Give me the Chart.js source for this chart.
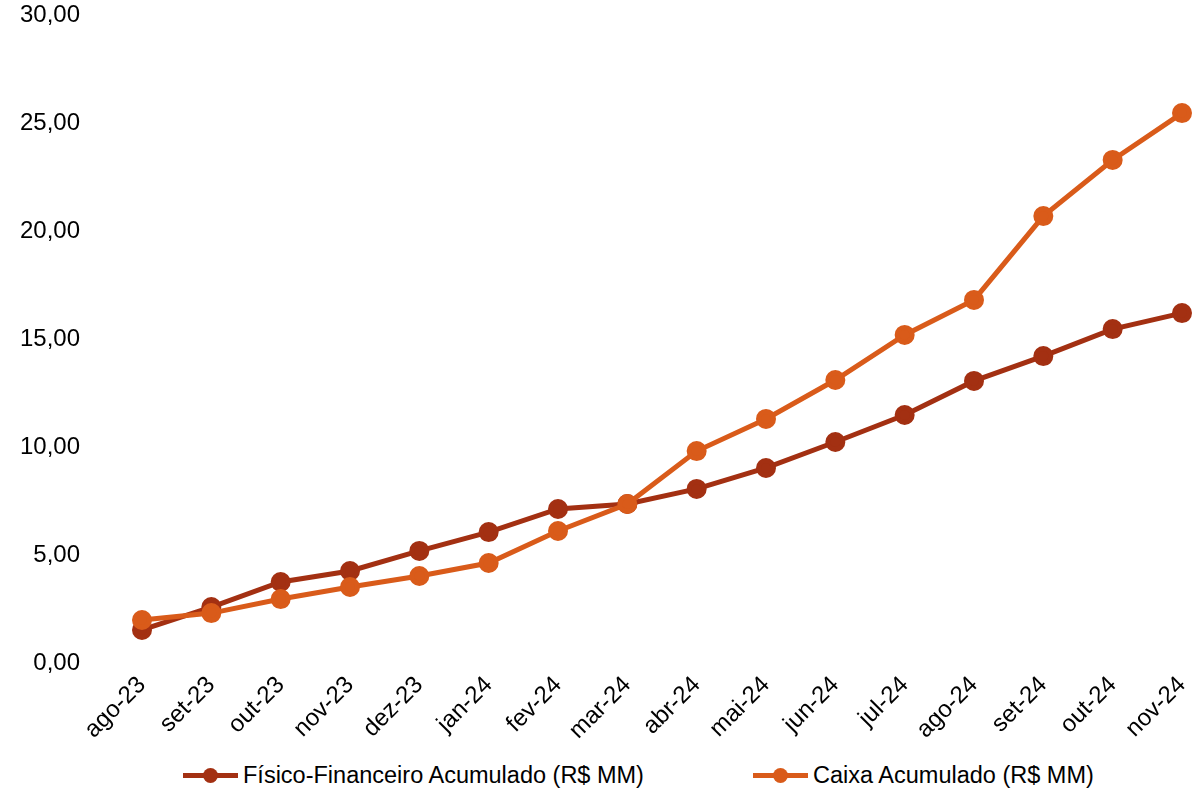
<!DOCTYPE html>
<html>
<head>
<meta charset="utf-8">
<script src="https://cdn.jsdelivr.net/npm/chart.js@4.4.1/dist/chart.umd.min.js"></script>
<style>
  html, body { margin: 0; padding: 0; background: #fff; }
  #wrap { position: relative; width: 1196px; height: 788px; font-family: "Liberation Sans", Arial, sans-serif; }
  #box { position: absolute; left: 0; top: 0; width: 1196px; height: 745px; }
  .leg { position: absolute; top: 761px; height: 28px; display: flex; align-items: center; font-size: 23.5px; color: #000; white-space: nowrap; }
  .mk { position: relative; width: 55px; height: 5px; margin-right: 5px; }
  .mk i { position: absolute; left: 20px; top: -5px; width: 15px; height: 15px; border-radius: 50%; }
</style>
</head>
<body>
<div id="wrap">
  <div id="box"><canvas id="c"></canvas></div>
  <div class="leg" style="left:183px"><div class="mk" id="mk1"><i></i></div><span>Físico-Financeiro Acumulado (R$ MM)</span></div>
  <div class="leg" style="left:753px"><div class="mk" id="mk2"><i></i></div><span>Caixa Acumulado (R$ MM)</span></div>
</div>
<script>
// months on the x axis
const months = ['ago-23', 'set-23', 'out-23', 'nov-23', 'dez-23', 'jan-24', 'fev-24', 'mar-24',
                'abr-24', 'mai-24', 'jun-24', 'jul-24', 'ago-24', 'set-24', 'out-24', 'nov-24'];

// R$ MM
const fisicoFinanceiro = [1.53, 2.59, 3.75, 4.26, 5.19, 6.06, 7.13, 7.36, 8.06, 9.03, 10.23, 11.48, 13.06, 14.21, 15.46, 16.20];
const caixa            = [1.99, 2.31, 2.96, 3.52, 4.03, 4.63, 6.11, 7.36, 9.81, 11.30, 13.10, 15.19, 16.81, 20.69, 23.29, 25.46];

const seriesNames = ['Físico-Financeiro Acumulado (R$ MM)', 'Caixa Acumulado (R$ MM)'];

const RED = '#a33012';
const ORANGE = '#d95b1a';

// legend markers
for (const [id, col] of [['mk1', RED], ['mk2', ORANGE]]) {
  const el = document.getElementById(id);
  el.style.background = col;
  el.querySelector('i').style.background = col;
}

const font = { family: '"Liberation Sans", Arial, sans-serif', size: 24 };

function line(label, data, color, order) {
  return {
    label, data, order,
    borderColor: color,
    backgroundColor: color,
    pointBackgroundColor: color,
    pointBorderColor: color,
    borderWidth: 5,
    pointRadius: 7.5,
    pointHoverRadius: 7.5,
    tension: 0,
    clip: false,
  };
}

new Chart(document.getElementById('c'), {
  type: 'line',
  data: {
    labels: months,
    datasets: [
      line(seriesNames[0], fisicoFinanceiro, RED, 1),
      line(seriesNames[1], caixa, ORANGE, 0),
    ],
  },
  options: {
    responsive: true,
    maintainAspectRatio: false,
    animation: false,
    layout: { padding: { top: 15, right: 14, left: 0, bottom: 0 } },
    plugins: { legend: { display: false }, tooltip: { enabled: false } },
    scales: {
      x: {
        grid: { display: false, drawTicks: false },
        border: { display: false },
        ticks: { color: '#000', font, maxRotation: 45, minRotation: 45, autoSkip: false, padding: 8 },
        afterFit: s => { s.height = 82; s.paddingLeft = 0; s.paddingRight = 0; },
      },
      y: {
        min: 0, max: 30,
        grid: { display: false, drawTicks: false },
        border: { display: false },
        ticks: {
          color: '#000', font, stepSize: 5, padding: 62,
          callback: v => v.toFixed(2).replace('.', ','),
        },
        afterFit: s => { s.width = 142; s.paddingTop = 0; s.paddingBottom = 0; },
      },
    },
  },
});
</script>
</body>
</html>
